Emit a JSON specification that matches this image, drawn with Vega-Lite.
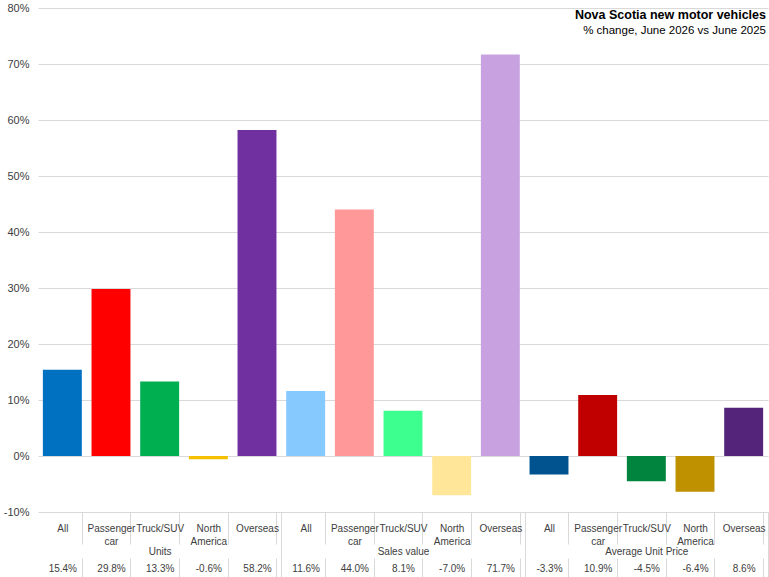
{
  "$schema": "https://vega.github.io/schema/vega-lite/v6.json",
  "autosize": "none",
  "width": 730,
  "height": 504,
  "padding": {"left": 38, "top": 8, "right": 1, "bottom": 65},
  "background": "white",
  "config": {
    "view": {"stroke": null},
    "font": "Liberation Sans",
    "axis": {"labelFont": "Liberation Sans", "labelColor": "#404040", "labelFontSize": 10}
  },
  "title": {
    "text": "Nova Scotia new motor vehicles",
    "subtitle": "% change, June 2026 vs June 2025",
    "anchor": "end",
    "orient": "top",
    "frame": "group",
    "dx": -2,
    "dy": 38,
    "fontSize": 12.5,
    "fontWeight": "bold",
    "color": "#000000",
    "subtitleFontSize": 11.5,
    "subtitleColor": "#000000",
    "subtitlePadding": 3,
    "font": "Liberation Sans",
    "subtitleFont": "Liberation Sans"
  },
  "data": {
    "values": [
      {"id": "Units|All", "group": "Units", "value": 15.4},
      {"id": "Units|Passenger car", "group": "Units", "value": 29.8},
      {"id": "Units|Truck/SUV", "group": "Units", "value": 13.3},
      {"id": "Units|North America", "group": "Units", "value": -0.6},
      {"id": "Units|Overseas", "group": "Units", "value": 58.2},
      {"id": "Sales value|All", "group": "Sales value", "value": 11.6},
      {"id": "Sales value|Passenger car", "group": "Sales value", "value": 44.0},
      {"id": "Sales value|Truck/SUV", "group": "Sales value", "value": 8.1},
      {"id": "Sales value|North America", "group": "Sales value", "value": -7.0},
      {"id": "Sales value|Overseas", "group": "Sales value", "value": 71.7},
      {"id": "Average Unit Price|All", "group": "Average Unit Price", "value": -3.3},
      {"id": "Average Unit Price|Passenger car", "group": "Average Unit Price", "value": 10.9},
      {"id": "Average Unit Price|Truck/SUV", "group": "Average Unit Price", "value": -4.5},
      {"id": "Average Unit Price|North America", "group": "Average Unit Price", "value": -6.4},
      {"id": "Average Unit Price|Overseas", "group": "Average Unit Price", "value": 8.6}
    ]
  },
  "resolve": {"scale": {"x": "independent"}, "axis": {"x": "independent"}},
  "layer": [
    {
      "mark": {"type": "bar"},
      "encoding": {
        "x": {
          "field": "id",
          "type": "nominal",
          "sort": null,
          "scale": {"paddingInner": 0.2, "paddingOuter": 0.1},
          "axis": {
            "title": null,
            "orient": "bottom",
            "offset": 0,
            "domain": false,
            "tickBand": "extent",
            "tickSize": 32,
            "tickColor": "#d9d9d9",
            "tickOpacity": {"condition": {"test": "!isValid(datum.value)", "value": 0}, "value": 1},
            "labelAngle": 0,
            "labelBaseline": "middle",
            "labelPadding": -16,
            "labelLineHeight": 13,
            "labelExpr": "isValid(datum.value) ? split(split(datum.value, '|')[1], ' ') : ''"
          }
        },
        "y": {
          "field": "value",
          "type": "quantitative",
          "scale": {"domain": [-10, 80], "nice": false},
          "axis": {
            "title": null,
            "values": [-10, 0, 10, 20, 30, 40, 50, 60, 70, 80],
            "labelExpr": "datum.value + '%'",
            "labelFontSize": 11,
            "domain": false,
            "ticks": false,
            "labelPadding": 9,
            "gridColor": "#d9d9d9",
            "gridWidth": 1
          }
        },
        "color": {
          "field": "id",
          "type": "nominal",
          "legend": null,
          "scale": {
            "domain": [
              "Units|All", "Units|Passenger car", "Units|Truck/SUV", "Units|North America", "Units|Overseas",
              "Sales value|All", "Sales value|Passenger car", "Sales value|Truck/SUV", "Sales value|North America", "Sales value|Overseas",
              "Average Unit Price|All", "Average Unit Price|Passenger car", "Average Unit Price|Truck/SUV", "Average Unit Price|North America", "Average Unit Price|Overseas"
            ],
            "range": [
              "#0070C0", "#FF0000", "#00B050", "#F5C000", "#7030A0",
              "#85C9FF", "#FF9999", "#3CFF90", "#FFE699", "#C8A2E0",
              "#00538F", "#C00000", "#00843E", "#BF9000", "#532479"
            ]
          }
        }
      }
    },
    {
      "mark": {"type": "text", "text": ""},
      "encoding": {
        "x": {
          "field": "group",
          "type": "nominal",
          "sort": null,
          "scale": {"paddingInner": 0, "paddingOuter": 0},
          "axis": {
            "title": null,
            "orient": "bottom",
            "offset": 0,
            "domain": false,
            "tickBand": "extent",
            "tickSize": 65,
            "tickColor": "#d9d9d9",
            "tickOpacity": {"condition": {"test": "!isValid(datum.value)", "value": 0}, "value": 1},
            "labelAngle": 0,
            "labelBaseline": "middle",
            "labelPadding": -26,
            "labelExpr": "isValid(datum.value) ? datum.value : ''"
          }
        }
      }
    },
    {
      "mark": {"type": "text", "text": ""},
      "encoding": {
        "x": {
          "field": "value",
          "type": "ordinal",
          "sort": null,
          "scale": {"paddingInner": 0.2, "paddingOuter": 0.1},
          "axis": {
            "title": null,
            "orient": "bottom",
            "offset": 46,
            "domain": false,
            "tickBand": "extent",
            "tickSize": 19,
            "tickColor": "#d9d9d9",
            "tickOpacity": {"condition": {"test": "!isValid(datum.value)", "value": 0}, "value": 1},
            "labelAngle": 0,
            "labelBaseline": "middle",
            "labelPadding": -9,
            "labelExpr": "isValid(datum.value) ? replace(format(datum.value, '.1f'), '\u2212', '-') + '%' : ''"
          }
        }
      }
    }
  ]
}
